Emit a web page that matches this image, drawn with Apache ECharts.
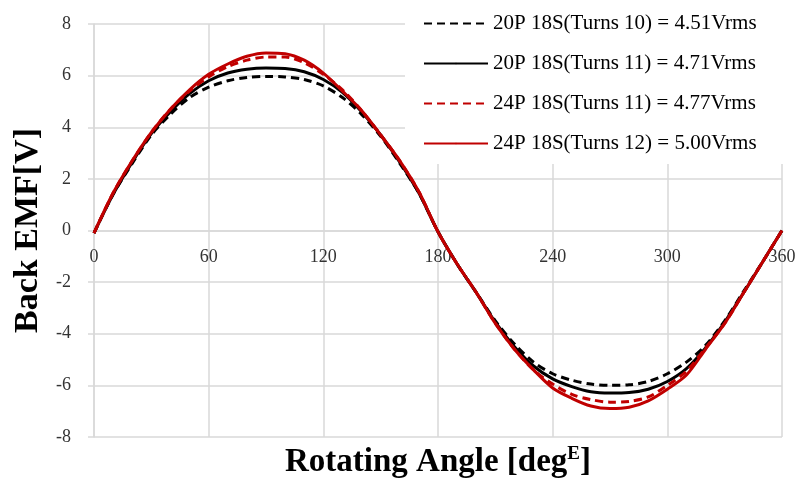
<!DOCTYPE html>
<html>
<head>
<meta charset="utf-8">
<script src="https://cdn.jsdelivr.net/npm/echarts@6/dist/echarts.min.js"></script>
<style>
  html, body { margin: 0; padding: 0; background: #fff; }
  #chart { width: 798px; height: 478px; }
</style>
</head>
<body>
<div id="chart"></div>
<script>
// rotor angle, electrical degrees
var angles = [0,10,20,30,40,50,60,70,80,90,100,110,120,130,140,150,160,170,180,
              190,200,210,220,230,240,250,260,270,280,290,300,310,320,330,340,350,360];

// back EMF [V]
var emf20p10 = [-0.1,1.4,2.6,3.7,4.5,5.15,5.55,5.8,5.93,5.97,5.95,5.85,5.6,5.15,4.5,3.65,2.6,1.45,-0.05,
                -1.3,-2.4,-3.5,-4.4,-5.1,-5.55,-5.8,-5.95,-6.0,-5.98,-5.85,-5.55,-5.1,-4.45,-3.5,-2.35,-1.2,0];
var emf20p11 = [-0.1,1.4,2.65,3.75,4.6,5.3,5.8,6.1,6.25,6.3,6.28,6.15,5.85,5.35,4.6,3.7,2.65,1.45,-0.05,
                -1.3,-2.4,-3.55,-4.5,-5.25,-5.75,-6.05,-6.25,-6.3,-6.28,-6.15,-5.85,-5.35,-4.55,-3.55,-2.4,-1.2,0];
var emf24p11 = [-0.1,1.45,2.7,3.8,4.7,5.4,5.95,6.35,6.6,6.72,6.72,6.5,6.05,5.45,4.65,3.7,2.7,1.5,-0.05,
                -1.3,-2.4,-3.6,-4.6,-5.4,-5.95,-6.35,-6.55,-6.65,-6.62,-6.45,-6.0,-5.45,-4.55,-3.6,-2.4,-1.2,0];
var emf24p12 = [-0.1,1.45,2.7,3.8,4.7,5.45,6.05,6.45,6.75,6.88,6.85,6.6,6.1,5.4,4.65,3.7,2.7,1.5,-0.05,
                -1.3,-2.4,-3.6,-4.6,-5.4,-6.1,-6.5,-6.8,-6.9,-6.85,-6.6,-6.15,-5.6,-4.6,-3.6,-2.4,-1.2,0];

var seriesNames = [
  '20P 18S(Turns 10) = 4.51Vrms',
  '20P 18S(Turns 11) = 4.71Vrms',
  '24P 18S(Turns 11) = 4.77Vrms',
  '24P 18S(Turns 12) = 5.00Vrms'
];

var serif = '"Liberation Serif", "DejaVu Serif", serif';
var gridColor = '#d9d9d9';
var gridTop = 24, gridBottom = 41, chartH = 478;

function pairs(vals) {
  return angles.map(function (a, i) { return [a, vals[i]]; });
}

function line(name, vals, color, dashed) {
  return {
    name: name,
    type: 'line',
    data: pairs(vals),
    smooth: 0.3,
    symbol: 'none',
    lineStyle: { color: color, width: 3, type: dashed ? [8, 5] : 'solid' },
    itemStyle: { color: color }
  };
}

// tick labels of the x axis sit on the 0 V line: shift the axis up to mid-height
var plotH = chartH - gridTop - gridBottom;
var zeroShift = -plotH / 2;

var myChart = echarts.init(document.getElementById('chart'));
var option = {
  backgroundColor: '#fff',
  animation: false,
  grid: { left: 94, right: 16, top: gridTop, bottom: gridBottom, containLabel: false, outerBoundsMode: 'none' },
  legend: {
    orient: 'vertical',
    left: 405,
    top: 0,
    padding: [13, 30, 10, 18],
    backgroundColor: '#fff',
    itemWidth: 64,
    itemHeight: 2,
    itemGap: 19,
    textStyle: { fontFamily: serif, fontSize: 21, lineHeight: 21, color: '#000' },
    data: seriesNames
  },
  xAxis: [
    {
      type: 'value',
      position: 'bottom',
      offset: zeroShift,
      min: 0, max: 360, interval: 60,
      axisLine: { onZero: false, lineStyle: { color: gridColor, width: 1.5 } },
      axisTick: { show: false },
      axisLabel: { margin: 18, fontFamily: serif, fontSize: 18, color: '#333' },
      splitLine: { show: true, lineStyle: { color: gridColor, width: 1.5 } }
    },
    {
      type: 'value',
      position: 'bottom',
      min: 0, max: 360, interval: 60,
      axisLine: { show: false, onZero: false },
      axisTick: { show: false },
      axisLabel: { show: false },
      splitLine: { show: false },
      name: 'Rotating Angle [deg{sup|E}]',
      nameLocation: 'middle',
      nameGap: 8,
      nameTextStyle: {
        fontFamily: serif, fontSize: 33, fontWeight: 'bold', color: '#000',
        rich: {
          sup: { fontFamily: serif, fontSize: 19, fontWeight: 'bold', color: '#000', padding: [0, 0, 15, 0] }
        }
      }
    }
  ],
  yAxis: {
    type: 'value',
    min: -8, max: 8, interval: 2,
    name: 'Back EMF[V]',
    nameLocation: 'middle',
    nameGap: 47,
    nameTextStyle: { fontFamily: serif, fontSize: 34, fontWeight: 'bold', color: '#000' },
    axisLine: { show: true, onZero: false, lineStyle: { color: gridColor, width: 1.5 } },
    axisTick: { show: true, length: 6, lineStyle: { color: gridColor, width: 1.5 } },
    axisLabel: { margin: 23, fontFamily: serif, fontSize: 18, color: '#333' },
    splitLine: { show: true, lineStyle: { color: gridColor, width: 1.5 } }
  },
  series: [
    line(seriesNames[0], emf20p10, '#000000', true),
    line(seriesNames[1], emf20p11, '#000000', false),
    line(seriesNames[2], emf24p11, '#c00000', true),
    line(seriesNames[3], emf24p12, '#c00000', false)
  ]
};
myChart.setOption(option);
</script>
</body>
</html>
